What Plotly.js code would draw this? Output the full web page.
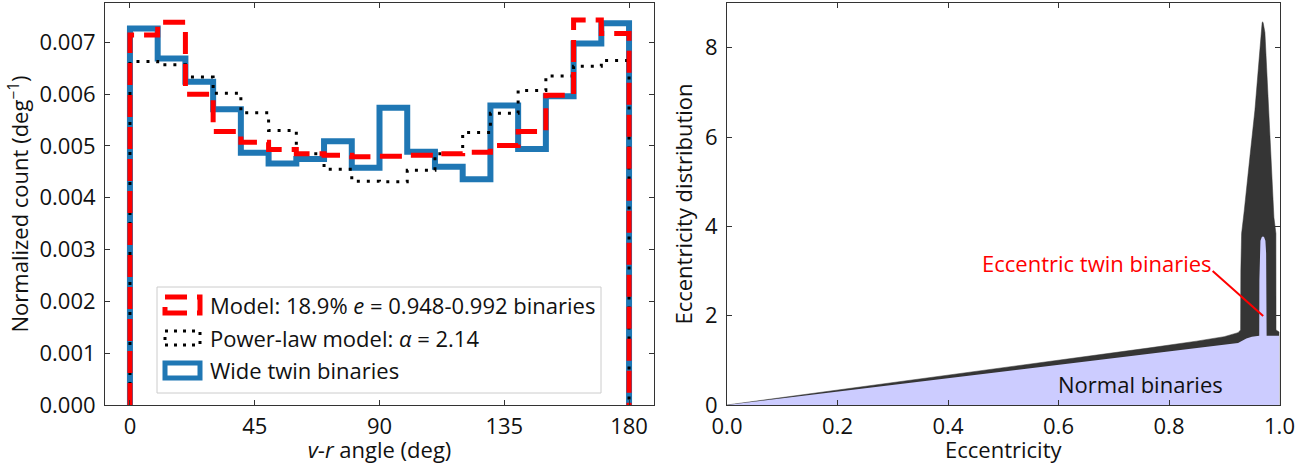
<!DOCTYPE html>
<html>
<head>
<meta charset="utf-8">
<script src="https://cdn.plot.ly/plotly-3.0.1.min.js"></script>
<style>html,body{margin:0;padding:0;background:#fff;}#chart{width:1314px;height:464px;}</style>
</head>
<body>
<div id="chart"></div>
<script>
// ---------- Left panel data: v-r angle histograms (10 deg bins) ----------
var angleEdges = [0, 10, 20, 30, 40, 50, 60, 70, 80, 90, 100, 110, 120, 130, 140, 150, 160, 170, 180];
var modelCounts = [0.00714, 0.00739, 0.00600, 0.00528, 0.00507, 0.00493, 0.00485, 0.00482, 0.00479,
                   0.00480, 0.00482, 0.00485, 0.00488, 0.00501, 0.00528, 0.00598, 0.00743, 0.00717];
var powerLawCounts = [0.00663, 0.00657, 0.00633, 0.00602, 0.00564, 0.00530, 0.00485, 0.00455, 0.00432,
                      0.00431, 0.00453, 0.00485, 0.00526, 0.00563, 0.00607, 0.00635, 0.00654, 0.00665];
var wideTwinCounts = [0.00727, 0.00669, 0.00624, 0.00571, 0.00487, 0.00466, 0.00475, 0.00509, 0.00458,
                      0.00574, 0.00489, 0.00460, 0.00436, 0.00578, 0.00494, 0.00596, 0.00698, 0.00737];
var angleTicks = [0, 45, 90, 135, 180];
var countTicks = [0, 0.001, 0.002, 0.003, 0.004, 0.005, 0.006, 0.007];

// ---------- Right panel data: eccentricity distribution ----------
var eccUpper = [0, 0.2, 0.4, 0.6, 0.7655, 0.85, 0.9, 0.925, 0.9296, 0.930, 0.9314, 0.9361, 0.9404, 0.9464,
                0.9555, 0.9615, 0.9663, 0.9685, 0.9694, 0.9705, 0.9736, 0.9778, 0.9826, 0.9868, 0.9899,
                0.9935, 0.9937, 1.0];
var distUpper = [0, 0.33, 0.66, 0.99, 1.28, 1.43, 1.53, 1.62, 1.68, 3.0, 3.84, 4.34, 4.88, 5.55,
                 6.6, 7.57, 8.4, 8.55, 8.58, 8.55, 8.34, 7.21, 6.09, 4.97, 4.2,
                 3.84, 1.68, 1.63];
var eccLower = [0, 0.2, 0.4, 0.6, 0.8, 0.9, 0.925, 0.93, 0.94, 0.95, 0.9633, 0.9636, 0.9642, 0.9655,
                0.968, 0.970, 0.972, 0.9745, 0.9758, 0.9764, 0.9767, 1.0];
var distLower = [0, 0.30, 0.60, 0.90, 1.20, 1.35, 1.39, 1.42, 1.49, 1.53, 1.55, 2.8, 3.4, 3.68,
                 3.76, 3.77, 3.76, 3.68, 3.4, 2.8, 1.55, 1.55];
var eccTicks = [0, 0.2, 0.4, 0.6, 0.8, 1.0];
var distTicks = [0, 2, 4, 6, 8];

// step outline (matplotlib histtype="step") from bin edges & counts
function stepOutline(edges, counts) {
  var xs = [edges[0]], ys = [0];
  for (var i = 0; i < counts.length; i++) { xs.push(edges[i]); ys.push(counts[i]); }
  xs.push(edges[edges.length - 1]); ys.push(0);
  return {x: xs, y: ys};
}
var sModel = stepOutline(angleEdges, modelCounts);
var sPow = stepOutline(angleEdges, powerLawCounts);
var sWide = stepOutline(angleEdges, wideTwinCounts);

var FONT = "Open Sans, Noto Sans, sans-serif";
var FS = 22;
var W = 1314, H = 464;
function px(x) { return x / W; }
function py(y) { return (H - y) / H; }

var traces = [
  {x: sWide.x, y: sWide.y, mode: 'lines', line: {shape: 'hv', color: '#1f77b4', width: 6},
   xaxis: 'x', yaxis: 'y', showlegend: false, hoverinfo: 'skip'},
  {x: sPow.x, y: sPow.y, mode: 'lines', line: {shape: 'hv', color: '#000000', width: 3, dash: '3px,7px'},
   xaxis: 'x', yaxis: 'y', showlegend: false, hoverinfo: 'skip'},
  {x: sModel.x, y: sModel.y, mode: 'lines', line: {shape: 'hv', color: '#ff0000', width: 5, dash: '22px,10px'},
   xaxis: 'x', yaxis: 'y', showlegend: false, hoverinfo: 'skip'},
  {x: eccUpper, y: distUpper, mode: 'lines', fill: 'tozeroy', fillcolor: '#353535',
   line: {color: '#353535', width: 0.5}, xaxis: 'x2', yaxis: 'y2', showlegend: false, hoverinfo: 'skip'},
  {x: eccLower, y: distLower, mode: 'lines', fill: 'tozeroy', fillcolor: '#ccccff',
   line: {color: '#ccccff', width: 0}, xaxis: 'x2', yaxis: 'y2', showlegend: false, hoverinfo: 'skip'}
];

var axCommon = {
  showgrid: false, zeroline: false, showline: true, linecolor: '#333', linewidth: 1,
  mirror: 'allticks', ticks: 'inside', ticklen: 5, tickwidth: 1, tickcolor: '#333',
  tickfont: {family: FONT, size: FS, color: '#111'}
};
function ax(extra) { var o = {}; for (var k in axCommon) o[k] = axCommon[k]; for (var k2 in extra) o[k2] = extra[k2]; return o; }

var yDom = [(H - 405) / H, (H - 3) / H];

var layout = {
  width: W, height: H,
  margin: {l: 0, r: 0, t: 0, b: 0},
  paper_bgcolor: '#fff', plot_bgcolor: '#fff',
  font: {family: FONT, size: FS, color: '#111'},
  xaxis: ax({domain: [105 / W, 654 / W], range: [-9, 189], tickvals: angleTicks, ticktext: angleTicks.map(String),
    ticklabelstandoff: 2,
    title: {text: '<i>v</i>-<i>r</i> angle (deg)', font: {family: FONT, size: FS, color: '#111'}, standoff: 2}}),
  yaxis: ax({domain: yDom, range: [0, 0.00776], tickvals: countTicks, ticktext: countTicks.map(function (v) { return v.toFixed(3); }),
    ticklabelstandoff: 4,
    title: {text: 'Normalized count (deg<sup>\u22121</sup>)', font: {family: FONT, size: FS, color: '#111'}, standoff: 4}}),
  xaxis2: ax({domain: [727 / W, 1279.5 / W], range: [0, 1], tickvals: eccTicks, ticktext: eccTicks.map(function (v) { return v.toFixed(1); }),
    anchor: 'y2', ticklabelstandoff: 2,
    title: {text: 'Eccentricity', font: {family: FONT, size: FS, color: '#111'}, standoff: 2}}),
  yaxis2: ax({domain: yDom, range: [0, 9.0], tickvals: distTicks, ticktext: distTicks.map(String),
    anchor: 'x2', ticklabelstandoff: 4,
    title: {text: 'Eccentricity distribution', font: {family: FONT, size: FS, color: '#111'}, standoff: 6}}),
  shapes: [
    // legend frame
    {type: 'rect', xref: 'paper', yref: 'paper', x0: px(157), x1: px(601), y0: py(393), y1: py(287),
     line: {color: '#cccccc', width: 1}, fillcolor: 'rgba(255,255,255,0.85)', layer: 'above'},
    {type: 'rect', xref: 'paper', yref: 'paper', x0: px(165), x1: px(200), y0: py(313), y1: py(297),
     line: {color: '#ff0000', width: 5, dash: '22px,10px'}, fillcolor: 'rgba(0,0,0,0)'},
    {type: 'rect', xref: 'paper', yref: 'paper', x0: px(165), x1: px(200), y0: py(345), y1: py(331),
     line: {color: '#000000', width: 3, dash: '3px,6px'}, fillcolor: 'rgba(0,0,0,0)'},
    {type: 'rect', xref: 'paper', yref: 'paper', x0: px(165), x1: px(200), y0: py(378), y1: py(363),
     line: {color: '#1f77b4', width: 5}, fillcolor: 'rgba(0,0,0,0)'},
    // pointer line for the eccentric twin label
    {type: 'line', xref: 'x2', yref: 'y2', x0: 0.879, y0: 3.0, x1: 0.9705, y1: 1.99,
     line: {color: '#ff0000', width: 2}}
  ],
  annotations: [
    {xref: 'paper', yref: 'paper', x: px(208), y: py(305), xanchor: 'left', yanchor: 'middle', showarrow: false,
     text: 'Model: 18.9% <i>e</i> = 0.948-0.992 binaries', font: {family: FONT, size: FS, color: '#111'}},
    {xref: 'paper', yref: 'paper', x: px(208), y: py(338), xanchor: 'left', yanchor: 'middle', showarrow: false,
     text: 'Power-law model: <i>\u03b1</i> = 2.14', font: {family: FONT, size: FS, color: '#111'}},
    {xref: 'paper', yref: 'paper', x: px(208), y: py(370), xanchor: 'left', yanchor: 'middle', showarrow: false,
     text: 'Wide twin binaries', font: {family: FONT, size: FS, color: '#111'}},
    {xref: 'x2', yref: 'y2', x: 0.881, y: 3.17, xanchor: 'right', yanchor: 'middle', showarrow: false,
     text: 'Eccentric twin binaries', font: {family: FONT, size: FS, color: '#ff0000'}},
    {xref: 'x2', yref: 'y2', x: 0.749, y: 0.47, xanchor: 'center', yanchor: 'middle', showarrow: false,
     text: 'Normal binaries', font: {family: FONT, size: FS, color: '#111'}}
  ]
};

Plotly.newPlot('chart', traces, layout, {staticPlot: true, displayModeBar: false});
</script>
</body>
</html>
